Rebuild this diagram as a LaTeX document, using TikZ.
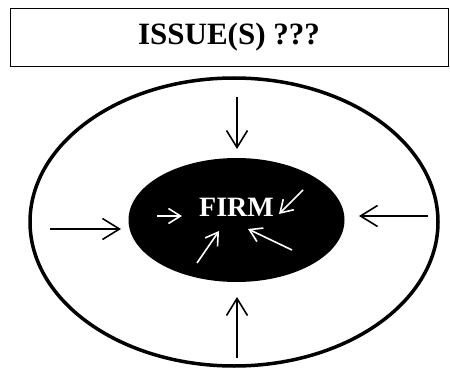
\documentclass[tikz,border=0pt]{standalone}
\usepackage{fontspec}
\setmainfont{Liberation Serif}
\usetikzlibrary{shapes.geometric,arrows.meta}
\begin{document}
\begin{tikzpicture}[x=1pt,y=-1pt,
  titlebox/.style={draw,line width=1pt,minimum width=438pt,minimum height=58pt,inner sep=0pt,
    font=\fontsize{31}{33}\selectfont\bfseries},
  outerring/.style={ellipse,draw,line width=3.5pt,minimum width=408pt,minimum height=288pt,inner sep=0pt},
  core/.style={ellipse,fill=black,minimum width=216pt,minimum height=124pt,inner sep=0pt},
  pushin/.style={line width=1.6pt,-{Straight Barb[length=17pt,width=21pt,line width=1.6pt]}},
  pullin/.style={white,line width=1.6pt,-{Straight Barb[length=12pt,width=15pt,line width=1.6pt]}}]
  \useasboundingbox (0,0) rectangle (450,369);
  % heading
  \node[titlebox] (issue) at (229,37.5) {ISSUE(S) ???};
  % environment and firm
  \node[outerring] (env) at (234,222) {};
  \node[core] (firm) at (236.5,220) {};
  \node[white,font=\fontsize{28}{30}\selectfont\bfseries] (firmlabel) at (236.5,207) {FIRM};
  % outer forces
  \coordinate (t0) at (237,97);   \coordinate (t1) at (237,149);
  \coordinate (l0) at (50,229);   \coordinate (l1) at (121,229);
  \coordinate (r0) at (428,216);  \coordinate (r1) at (359,216);
  \coordinate (b0) at (237,358);  \coordinate (b1) at (237,297);
  \draw[pushin] (t0) -- (t1);
  \draw[pushin] (l0) -- (l1);
  \draw[pushin] (r0) -- (r1);
  \draw[pushin] (b0) -- (b1);
  % inner forces
  \coordinate (a0) at (157,216);  \coordinate (a1) at (182,216);
  \coordinate (c0) at (303,190);  \coordinate (c1) at (279,214);
  \coordinate (d0) at (197,263);  \coordinate (d1) at (219,231);
  \coordinate (e0) at (292,250);  \coordinate (e1) at (248,229);
  \draw[pullin] (a0) -- (a1);
  \draw[pullin] (c0) -- (c1);
  \draw[pullin] (d0) -- (d1);
  \draw[pullin] (e0) -- (e1);
\end{tikzpicture}
\end{document}
